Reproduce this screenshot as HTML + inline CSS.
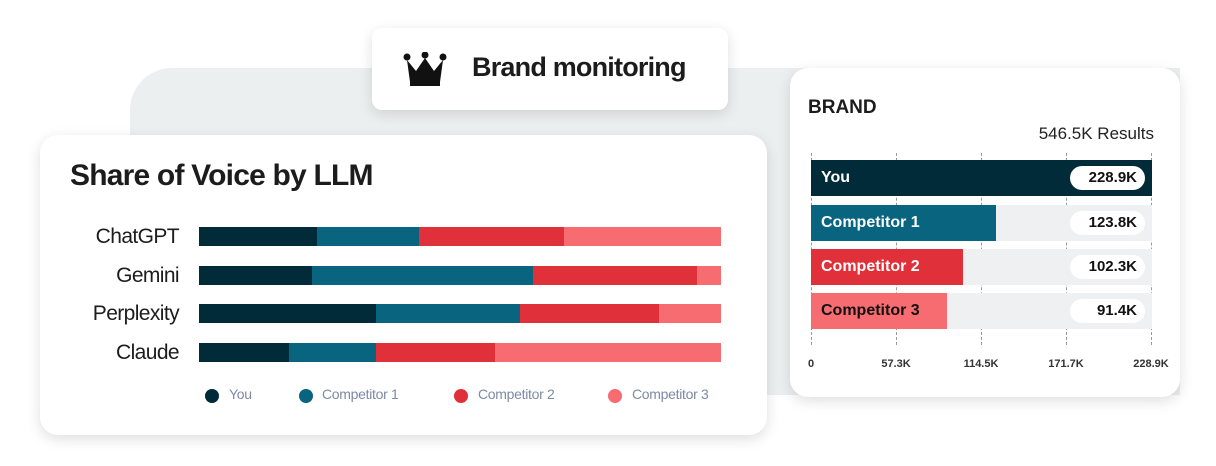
<!DOCTYPE html>
<html><head><meta charset="utf-8"><style>
*{margin:0;padding:0;box-sizing:border-box}
body{width:1216px;height:466px;background:#fff;position:relative;overflow:hidden;font-family:"Liberation Sans",sans-serif}
.abs{position:absolute}
.panel{left:130px;top:68px;width:1050px;height:327px;background:#eceff0;border-radius:42px 0 0 0}
.card{background:#fff;box-shadow:0 4px 14px rgba(0,0,0,0.13)}
.seg{position:absolute;top:0;height:100%}
.lbl{position:absolute;right:1037px;font-size:21px;color:#1c1c1c;letter-spacing:-0.6px;text-align:right;width:150px}
.dot{position:absolute;width:14px;height:14px;border-radius:50%;top:389px}
.lg{position:absolute;top:386px;font-size:14px;color:#7d8aa6;letter-spacing:-0.3px}
.bar{position:absolute;left:811px;width:341px;height:36px;background:#eef0f2}
.fill{position:absolute;left:0;top:0;height:100%;color:#fff;font-weight:bold;font-size:16px;line-height:36px;padding-left:10px;white-space:nowrap}
.pill{position:absolute;right:7px;top:6px;width:75px;height:24px;background:#fff;border-radius:12px;font-weight:bold;font-size:15px;line-height:24px;text-align:right;padding-right:8px;color:#111}
.tick{position:absolute;top:153px;height:192px;border-left:1px dashed #999}
.ax{position:absolute;top:358px;font-size:11px;font-weight:bold;color:#333;transform:translateX(-50%)}
</style></head><body>
<div class="abs panel"></div>
<div class="abs card" style="left:372px;top:28px;width:356px;height:82px;border-radius:10px"></div>
<svg class="abs" style="left:403px;top:52px" width="44" height="36" viewBox="0 0 44 36"><circle cx="4" cy="5" r="3.5" fill="#111"/><circle cx="22" cy="3" r="3.5" fill="#111"/><circle cx="40" cy="5" r="3.5" fill="#111"/><path d="M4 8 L13 19 L22 6 L31 19 L40 8 L37 30 L7 30Z" fill="#111"/><rect x="7" y="30" width="30" height="4" fill="#111"/></svg>
<div class="abs" style="left:472px;top:52px;font-size:27px;font-weight:bold;color:#1c1c1c;letter-spacing:-0.8px">Brand monitoring</div>

<div class="abs card" style="left:40px;top:135px;width:727px;height:300px;border-radius:18px"></div>
<div class="abs" style="left:70px;top:159px;font-size:30px;font-weight:bold;color:#1c1c1c;letter-spacing:-0.8px">Share of Voice by LLM</div>
<div class="lbl" style="top:225px">ChatGPT</div>
<div class="lbl" style="top:264px">Gemini</div>
<div class="lbl" style="top:302px">Perplexity</div>
<div class="lbl" style="top:341px">Claude</div>
<div class="abs" style="left:199px;top:227px;width:522px;height:19px">
<div class="seg" style="left:0;width:118px;background:#022b3a"></div><div class="seg" style="left:118px;width:102px;background:#09657f"></div><div class="seg" style="left:220px;width:145px;background:#e0303a"></div><div class="seg" style="left:365px;width:157px;background:#f76c70"></div></div>
<div class="abs" style="left:199px;top:266px;width:522px;height:19px">
<div class="seg" style="left:0;width:113px;background:#022b3a"></div><div class="seg" style="left:113px;width:221px;background:#09657f"></div><div class="seg" style="left:334px;width:164px;background:#e0303a"></div><div class="seg" style="left:498px;width:24px;background:#f76c70"></div></div>
<div class="abs" style="left:199px;top:304px;width:522px;height:19px">
<div class="seg" style="left:0;width:177px;background:#022b3a"></div><div class="seg" style="left:177px;width:144px;background:#09657f"></div><div class="seg" style="left:321px;width:139px;background:#e0303a"></div><div class="seg" style="left:460px;width:62px;background:#f76c70"></div></div>
<div class="abs" style="left:199px;top:343px;width:522px;height:19px">
<div class="seg" style="left:0;width:90px;background:#022b3a"></div><div class="seg" style="left:90px;width:87px;background:#09657f"></div><div class="seg" style="left:177px;width:119px;background:#e0303a"></div><div class="seg" style="left:296px;width:226px;background:#f76c70"></div></div>
<div class="dot" style="left:205px;background:#022b3a"></div><div class="lg" style="left:229px">You</div>
<div class="dot" style="left:299px;background:#09657f"></div><div class="lg" style="left:322px">Competitor 1</div>
<div class="dot" style="left:454px;background:#e0303a"></div><div class="lg" style="left:478px">Competitor 2</div>
<div class="dot" style="left:608px;background:#f76c70"></div><div class="lg" style="left:632px">Competitor 3</div>

<div class="abs card" style="left:790px;top:68px;width:390px;height:329px;border-radius:18px"></div>
<div class="abs" style="left:808px;top:97px;font-size:19px;font-weight:bold;color:#1c1c1c">BRAND</div>
<div class="abs" style="right:62px;top:124px;font-size:17px;color:#222">546.5K Results</div>
<div class="tick" style="left:811px"></div><div class="tick" style="left:896px"></div><div class="tick" style="left:981px"></div><div class="tick" style="left:1066px"></div><div class="tick" style="left:1151px"></div>
<div class="bar" style="top:160px"><div class="fill" style="width:341px;background:#022b3a">You</div><div class="pill">228.9K</div></div>
<div class="bar" style="top:205px"><div class="fill" style="width:185px;background:#09657f">Competitor 1</div><div class="pill">123.8K</div></div>
<div class="bar" style="top:249px"><div class="fill" style="width:152px;background:#e0303a">Competitor 2</div><div class="pill">102.3K</div></div>
<div class="bar" style="top:293px"><div class="fill" style="width:136px;background:#f76c70;color:#111">Competitor 3</div><div class="pill">91.4K</div></div>
<div class="ax" style="left:811px">0</div><div class="ax" style="left:896px">57.3K</div><div class="ax" style="left:981px">114.5K</div><div class="ax" style="left:1066px">171.7K</div><div class="ax" style="left:1151px">228.9K</div>
</body></html>
